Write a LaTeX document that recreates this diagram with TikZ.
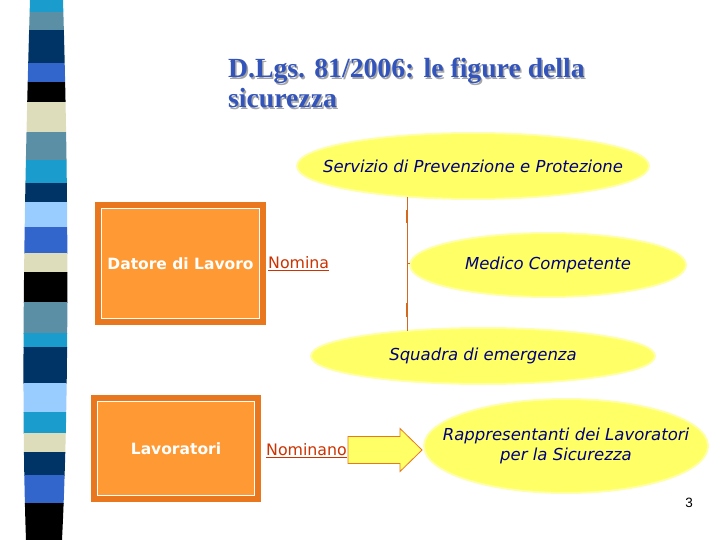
\documentclass[tikz,border=0pt]{standalone}
\usepackage{fontspec}
\setmainfont{Liberation Serif}
\newfontfamily\comicfont{DejaVu Sans}
\newfontfamily\pagefont{Liberation Sans}
\usetikzlibrary{shapes.geometric}
\definecolor{cCyan}{HTML}{1A9CCC}
\definecolor{cSteel}{HTML}{5B8FA6}
\definecolor{cNavy}{HTML}{003366}
\definecolor{cRoyal}{HTML}{3366CC}
\definecolor{cBeige}{HTML}{DDDDBB}
\definecolor{cLight}{HTML}{99CCFF}
\definecolor{titleblue}{HTML}{3355BB}
\definecolor{ellfill}{HTML}{FFFF66}
\definecolor{elltext}{HTML}{000080}
\definecolor{boxfill}{HTML}{FF9933}
\definecolor{boxborder}{HTML}{E8771E}
\definecolor{nomcol}{HTML}{CC3300}
\definecolor{linecol}{HTML}{D2691E}
\tikzset{
  yell/.style={ellipse, fill=ellfill, inner sep=0pt,
    preaction={draw=ellfill!55!white, line width=4pt}},
  elltxt/.style={inner sep=0pt, font=\comicfont\itshape\fontsize{16.5}{20.5}\selectfont, text=elltext, align=center},
  obox/.style={rectangle, fill=boxfill, draw=white, line width=1.8pt, inner sep=0pt,
    preaction={draw=boxborder, line width=13pt},
    font=\comicfont\bfseries\fontsize{15.5}{18}\selectfont, text=white},
  nomtext/.style={font=\comicfont\fontsize{15.8}{18}\selectfont, text=nomcol, inner sep=0pt},
  connector/.style={draw=linecol, line width=0.8pt},
  blockarrow/.style={fill=ellfill, draw=boxborder, line width=0.8pt, line join=miter},
  titlestyle/.style={anchor=north west, inner sep=0pt, align=left, font=\bfseries\fontsize{27.7}{30}\selectfont}
}
\begin{document}
\begin{tikzpicture}[x=1pt,y=-1pt]
\useasboundingbox (0,0) rectangle (720,540);
\fill[white] (0,0) rectangle (720,540);
% striped bar
\begin{scope}
\clip (30,0) .. controls (24,200) and (21,400) .. (26,540) -- (62,540) .. controls (69,400) and (69,200) .. (63,0) -- cycle;
\foreach \ya/\yb/\col in {0/12/cCyan,12/30/cSteel,30/63/cNavy,63/82/cRoyal,82/102/black,102/132/cBeige,132/160/cSteel,160/183/cCyan,183/202/cNavy,202/227/cLight,227/253/cRoyal,253/272/cBeige,272/302/black,302/333/cSteel,333/347/cCyan,347/383/cNavy,383/412/cLight,412/433/cCyan,433/452/cBeige,452/475/cNavy,475/503/cRoyal,503/540/black}
  \fill[\col] (0,\ya) rectangle (100,\yb+0.5);
\end{scope}
% title
\node[titlestyle, text=black!35] (titleshadow) at (229.5,59.5) {D.Lgs. 81/2006: le figure della\\sicurezza};
\node[titlestyle, text=titleblue] (title) at (228,58) {D.Lgs. 81/2006: le figure della\\sicurezza};
% ellipses
\node[yell, minimum width=350pt, minimum height=64pt] (spp) at (473,166) {};
\node[elltxt] (spptxt) at (spp.center) {Servizio di Prevenzione e Protezione};
\node[yell, minimum width=274pt, minimum height=62pt] (mc) at (548,265) {};
\node[elltxt] (mctxt) at (mc.center) {Medico Competente};
\node[yell, minimum width=342pt, minimum height=54pt] (se) at (483,356) {};
\node[elltxt] (setxt) at (se.center) {Squadra di emergenza};
\node[yell, minimum width=282pt, minimum height=92pt] (rls) at (566,446) {};
\node[elltxt] (rlstxt) at (rls.center) {Rappresentanti dei Lavoratori\\per la Sicurezza};
% boxes
\node[obox, minimum width=158pt, minimum height=110pt] (dl) at (180.5,263.5) {Datore di Lavoro};
\node[obox, minimum width=157pt, minimum height=94pt] (lav) at (176,448.5) {Lavoratori};
% labels
\node[nomtext, anchor=west] (nom) at (268,264) {\underline{Nomina}};
\node[nomtext, anchor=west] (nomn) at (266,451) {\underline{Nominano}};
% vertical connector
\coordinate (vtop) at (407,197);
\coordinate (vbot) at (407,331);
\draw[connector] (vtop) -- (vbot);
\draw[connector, line width=2pt] (407,210) -- (407,223);
\draw[connector, line width=2pt] (407,303) -- (407,317);
\draw[connector, line width=0.5pt] (407,263) -- (410,263);
% block arrow
\coordinate (atail) at (348,450);
\draw[blockarrow] (atail) ++(0,-13.5) -- ++(52,0) -- ++(0,-8) -- (422,450) -- (400,471.5) -- ++(0,-8) -- ++(-52,0) -- cycle;
% page number
\node[font=\pagefont\fontsize{13.5}{15}\selectfont, inner sep=0pt] (pg) at (689,503) {3};
\end{tikzpicture}
\end{document}
